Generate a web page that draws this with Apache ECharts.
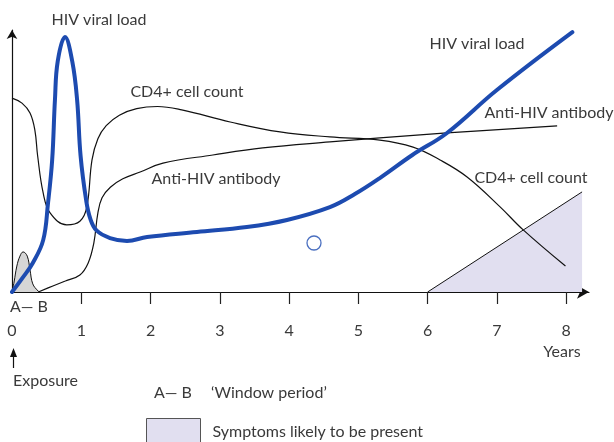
<!DOCTYPE html>
<html>
<head>
<meta charset="utf-8">
<script src="https://cdn.jsdelivr.net/npm/echarts@6/dist/echarts.min.js"></script>
<style>
  html, body { margin: 0; padding: 0; background: #ffffff; }
  #chart { width: 614px; height: 442px; }
</style>
</head>
<body>
<div id="chart"></div>
<script>
// Years after exposure shown on the horizontal axis
const yearTicks = [0, 1, 2, 3, 4, 5, 6, 7, 8];

// Relative levels (0-100) against years since exposure
const viralLoad = [
  [0, 0], [0.144, 5.1], [0.30, 11.1], [0.45, 19.8], [0.52, 34.0], [0.58, 50.4],
  [0.62, 73.3], [0.66, 88.0], [0.765, 97.3], [0.87, 88.0],
  [0.94, 73.3], [0.99, 52.0], [1.07, 35.1], [1.13, 28.0],
  [1.22, 23.5], [1.415, 20.6], [1.66, 19.5], [1.95, 21.0], [2.67, 22.9],
  [3.39, 24.8], [3.97, 27.5], [4.59, 32.4], [4.95, 37.4], [5.31, 43.5],
  [5.78, 52.3], [6.28, 60.7], [7.00, 77.1], [8.09, 99.2]
];

const cd4Count = [
  [0, 74.0], [0.144, 72.1], [0.26, 68.3], [0.33, 61.8], [0.37, 52.0],
  [0.45, 37.8], [0.55, 30.2], [0.79, 25.6], [0.98, 27.0],
  [1.08, 32.4], [1.155, 50.4], [1.24, 58.5], [1.36, 63.5], [1.55, 67.5],
  [1.80, 70.0], [2.10, 70.8], [2.45, 69.5], [3.15, 64.9], [3.87, 61.1],
  [4.59, 59.2], [5.31, 58.0], [5.79, 55.3], [6.18, 50.4], [6.57, 43.9],
  [7.05, 32.4], [7.38, 23.7], [7.99, 9.9]
];

const antibody = [
  [0.38, 0], [0.59, 2.3], [0.77, 4.2], [0.98, 6.5], [1.10, 11.1],
  [1.18, 18.5], [1.24, 30.2], [1.30, 36.0], [1.42, 40.0],
  [1.60, 43.2], [1.85, 45.8], [2.18, 49.2], [2.90, 52.3], [3.62, 55.0],
  [4.59, 57.3], [5.31, 58.8], [6.28, 60.7], [7.87, 63.4]
];

// Short early rise between A and B (window period)
const windowPeriod = [
  [0, 0], [0.03, 3.8], [0.07, 9.9], [0.115, 13.7], [0.16, 15.3],
  [0.22, 13.7], [0.26, 8.4], [0.30, 3.1], [0.375, 0.4], [0.40, 0]
];

// Years in which symptoms are likely
const symptoms = [[6.0, 0], [8.23, 38.2]];

const openMarker = [[4.36, 18.7]];

const FONT = 'Lato, "Open Sans", sans-serif';
const TEXT = '#3a3a3a';
const BLUE = '#1d4bb0';
const LAVENDER = '#e1dff0';

function label(text, x, y, align) {
  return {
    type: 'text',
    style: {
      text: text, x: x, y: y,
      fontSize: 16, fontFamily: FONT, fill: TEXT,
      align: align || 'center', verticalAlign: 'middle',
      textAlign: align || 'center', textVerticalAlign: 'middle'
    },
    z: 50
  };
}

const chart = echarts.init(document.getElementById('chart'), null, { renderer: 'canvas' });

chart.setOption({
  animation: false,
  backgroundColor: '#ffffff',
  grid: { left: 12, right: 25, top: 30, bottom: 150 },
  xAxis: {
    type: 'value',
    min: 0,
    max: 8.33,
    axisLine: {
      show: true,
      onZero: true,
      symbol: ['none', 'arrow'],
      symbolSize: [10, 12],
      lineStyle: { color: '#111', width: 1.2 }
    },
    axisTick: {
      show: true,
      customValues: yearTicks.filter(function (v) { return v > 0; }),
      length: 12,
      inside: false,
      lineStyle: { color: '#222', width: 1.2 }
    },
    axisLabel: {
      customValues: yearTicks,
      margin: 31,
      fontSize: 16,
      fontFamily: FONT,
      color: TEXT,
      formatter: function (v) { return String(v); }
    },
    splitLine: { show: false }
  },
  yAxis: {
    type: 'value',
    min: 0,
    max: 100,
    axisLine: {
      show: true,
      symbol: ['none', 'arrow'],
      symbolSize: [8, 9],
      lineStyle: { color: '#111', width: 1.2 }
    },
    axisTick: { show: false },
    axisLabel: { show: false },
    splitLine: { show: false }
  },
  legend: {
    data: ['Symptoms likely to be present'],
    left: 146,
    top: 418,
    padding: 0,
    icon: 'rect',
    itemWidth: 54,
    itemHeight: 26,
    itemStyle: { color: LAVENDER, borderColor: '#555', borderWidth: 1 },
    selectedMode: false,
    textStyle: { fontSize: 16, fontFamily: FONT, color: TEXT, padding: [0, 0, 0, 7] }
  },
  graphic: [
    label('HIV viral load', 99, 20),
    label('CD4+ cell count', 187, 92),
    label('Anti-HIV antibody', 216, 179),
    label('HIV viral load', 477, 44),
    label('Anti-HIV antibody', 549, 113),
    label('CD4+ cell count', 531, 178),
    label('A\u2014 B', 10, 307, 'left'),
    label('Years', 562, 352),
    label('Exposure', 13, 381, 'left'),
    label('A\u2014 B', 154, 393, 'left'),
    label('\u2018Window period\u2019', 211, 393, 'left'),
    {
      type: 'line',
      shape: { x1: 13.5, y1: 356, x2: 13.5, y2: 368 },
      style: { stroke: '#111', lineWidth: 1.2 }
    },
    {
      type: 'polygon',
      shape: { points: [[10, 357], [17, 357], [13.5, 348]] },
      style: { fill: '#111' }
    }
  ],
  series: [
    {
      name: 'Symptoms likely to be present',
      type: 'line',
      data: symptoms,
      symbol: 'none',
      lineStyle: { color: '#111', width: 1 },
      itemStyle: { color: LAVENDER },
      areaStyle: { color: LAVENDER, opacity: 1 },
      z: 1
    },
    {
      name: 'Window period',
      type: 'line',
      data: windowPeriod,
      smooth: 0.4,
      symbol: 'none',
      lineStyle: { color: '#111', width: 1 },
      areaStyle: { color: '#d6d6d6', opacity: 1 },
      z: 2
    },
    {
      name: 'CD4+ cell count',
      type: 'line',
      data: cd4Count,
      smooth: 0.4,
      symbol: 'none',
      lineStyle: { color: '#111', width: 1.2 },
      z: 3
    },
    {
      name: 'Anti-HIV antibody',
      type: 'line',
      data: antibody,
      smooth: 0.4,
      symbol: 'none',
      lineStyle: { color: '#111', width: 1.2 },
      z: 3
    },
    {
      name: 'HIV viral load',
      type: 'line',
      data: viralLoad,
      smooth: 0.4,
      symbol: 'none',
      lineStyle: { color: BLUE, width: 4, cap: 'round' },
      z: 5
    },
    {
      name: 'Marker',
      type: 'scatter',
      data: openMarker,
      symbol: 'circle',
      symbolSize: 14,
      itemStyle: { color: 'rgba(255,255,255,0)', borderColor: BLUE, borderWidth: 1.3 },
      z: 6
    }
  ]
});
</script>
</body>
</html>
